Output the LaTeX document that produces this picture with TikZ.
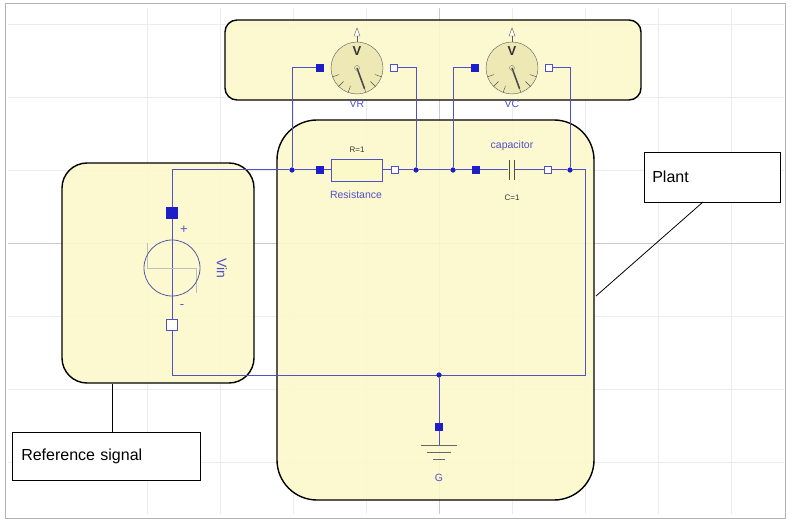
\documentclass[tikz,border=0pt]{standalone}
\usepackage{fontspec}
\setmainfont{Liberation Sans}
\begin{document}
\begin{tikzpicture}[x=1pt,y=-1pt,
  wire/.style={draw=wireblue,line width=1pt},
  fsq/.style={draw=portblue,fill=portblue,minimum size=7pt,inner sep=0pt},
  hsq/.style={draw=wireblue,fill=white,minimum size=7pt,inner sep=0pt},
  jdot/.style={circle,fill=portblue,minimum size=5pt,inner sep=0pt},
  ybox/.style={draw=black,line width=1.4pt,fill=boxy},
  lbl/.style={draw=black,fill=white,line width=0.6pt,font=\fontsize{16}{18}\selectfont,inner sep=0pt,anchor=west},
  meter/.style={circle,draw=gray!70!black,fill=meterfill,minimum size=52pt,inner sep=0pt},
  btxt/.style={text=wireblue,font=\fontsize{10.5}{12}\selectfont},
  ktxt/.style={text=black!80,font=\fontsize{8}{9}\selectfont}]
\definecolor{wireblue}{RGB}{80,80,200}
\definecolor{portblue}{RGB}{30,30,200}
\definecolor{boxy}{RGB}{252,249,200}
\definecolor{meterfill}{RGB}{238,232,180}
\useasboundingbox (0,0) rectangle (792,526);
\fill[white] (0,0) rectangle (792,526);
\draw[gray!60,line width=1pt] (5,4) rectangle (785,518);
% grid
\foreach \x in {147,220,293,366,512,585,658,731} \draw[gray!15] (\x,8) -- (\x,514);
\foreach \y in {24,97,170,316,389,462} \draw[gray!15] (8,\y) -- (784,\y);
\draw[gray!40] (439,8) -- (439,514);
\draw[gray!40] (8,243) -- (784,243);
% boxes
\draw[ybox,fill opacity=0.85,rounded corners=12pt] (225,20) rectangle (641,100);
\draw[ybox,fill opacity=0.85,rounded corners=40pt] (277,120) rectangle (594,500);
\draw[ybox,fill opacity=0.85,rounded corners=25pt] (62,163) rectangle (254,383);
% labels
\node[lbl,minimum width=136pt,minimum height=50pt,text width=120pt,align=left,inner xsep=8pt] (plant) at (644,177) {Plant};
\node[lbl,minimum width=188pt,minimum height=48pt,text width=170pt,align=left,inner xsep=8pt] (ref) at (12,456) {Reference signal};
\coordinate (pl) at (596,296);
\coordinate (rl) at (112,384);
\draw[black,line width=0.8pt] (703,202) -- (pl);
\draw[black,line width=0.8pt] (112,432) -- (rl);
% junctions
\node[jdot] (j1) at (292,170) {};
\node[jdot] (j2) at (416,170) {};
\node[jdot] (j3) at (453,170) {};
\node[jdot] (j4) at (570,170) {};
\node[jdot] (j5) at (439,375) {};
\coordinate (tl) at (172,170);
\coordinate (bl) at (172,375);
\coordinate (tr) at (585,170);
\coordinate (br) at (585,375);
% wires
\draw[wire] (tl) -- (j1) -- (j2) -- (j3) -- (j4) -- (tr) -- (br) -- (bl) -- (tl);
\node[jdot] at (j1) {};\node[jdot] at (j2) {};\node[jdot] at (j3) {};\node[jdot] at (j4) {};\node[jdot] at (j5) {};
% Vin
\draw[gray!50] (147,243) -- (147,268) -- (196,268) -- (196,293);
\draw[gray!70!blue,line width=0.8pt] (172,268) circle (28);
\node[fsq,minimum size=11pt] (vp) at (172,213) {};
\node[hsq,minimum size=11pt] (vm) at (172,325) {};
\node[btxt,font=\fontsize{13}{13}\selectfont] at (184,230) {+};
\node[btxt,font=\fontsize{13}{13}\selectfont] at (182,307) {-};
\node[btxt,font=\fontsize{14}{14}\selectfont,rotate=-90] at (222,268) {Vin};
% resistor
\node[fsq] (r1) at (320,170) {};
\node[draw=wireblue,fill=boxy,minimum width=51pt,minimum height=22pt,inner sep=0pt,line width=0.8pt] (res) at (357,170) {};
\node[hsq] (r2) at (395,170) {};
\node[ktxt] at (357,150) {R=1};
\node[btxt] at (356,195) {Resistance};
% capacitor
\node[fsq] (c1) at (476,170) {};
\fill[boxy] (508,158) rectangle (515,182);
\draw[black!70,line width=0.9pt] (509,160) -- (509,180) (514,160) -- (514,180);
\node[hsq] (c2) at (548,170) {};
\node[btxt] at (512,146) {capacitor};
\node[ktxt] at (512,198) {C=1};
% ground
\node[fsq] (g) at (439,427) {};
\draw[wire] (j5) -- (g) -- (439,445);
\draw[black!60,line width=0.8pt] (421,445) -- (457,445) (427,452) -- (451,452) (433,459) -- (445,459);
\node[btxt] at (439,478) {G};
% meters
\foreach \cx/\nm/\la/\lb in {357/VR/j1/j2, 512/VC/j3/j4}{
  \draw[wire] (\la) |- (\cx-37,68);
  \draw[wire] (\lb) |- (\cx+37,68);
  \node[meter] (m\nm) at (\cx,68) {};
  \node[fsq] at (\cx-37,68) {};
  \node[hsq] at (\cx+37,68) {};
  \draw[gray!70!black] (\cx,42) -- (\cx,36);
  \draw[gray!70!black,fill=white] (\cx-3,36) -- (\cx+3,36) -- (\cx,28) -- cycle;
  \node[font=\bfseries\fontsize{13}{13}\selectfont,text=black!80] at (\cx,51) {V};
  \foreach \a in {-160,-135,-110,-70,-45,-20} \draw[black!70] (\cx,68) ++(-\a:19) -- ++(-\a:7);
  \draw[black!70,line width=1.6pt] (\cx,68) -- ++(70:22);
  \draw[gray] (\cx,68) circle (2.5);
  \node[btxt] at (\cx,104) {\nm};
}
\end{tikzpicture}
\end{document}
